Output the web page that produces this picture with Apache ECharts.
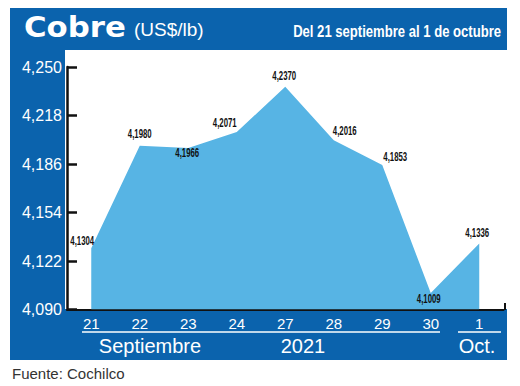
<!DOCTYPE html>
<html>
<head>
<meta charset="utf-8">
<script src="https://cdn.jsdelivr.net/npm/echarts@6/dist/echarts.min.js"></script>
<style>
html,body{margin:0;padding:0;background:#fff;}
#c{width:520px;height:386px;}
</style>
</head>
<body>
<div id="c"></div>
<script>
// ---- data ----
const categories = ['21', '22', '23', '24', '27', '28', '29', '30', '1'];
const prices = [4.1304, 4.1980, 4.1966, 4.2071, 4.2370, 4.2016, 4.1853, 4.1009, 4.1336];
const yTicks = { min: 4.090, max: 4.250, step: 0.032 };
const titleMain = 'Cobre';
const titleUnit = '(US$/lb)';
const titleRange = 'Del 21 septiembre al 1 de octubre';
const monthLabels = ['Septiembre', '2021', 'Oct.'];
const sourceText = 'Fuente: Cochilco';

// ---- styling ----
const BLUE = '#0b63ad';
const FILL = '#57b4e4';
const SANS = '"Liberation Sans", Arial, sans-serif';
const labelOffsets = [[-9, -8], [0, -13], [-1, 4], [-12, -10], [-1, -12], [11, -10], [13, -9], [-2, 5], [-2, -11]];

const fmtComma = (v, d) => v.toFixed(d).replace('.', ',');

const chart = echarts.init(document.getElementById('c'), null, { renderer: 'svg' });

chart.setOption({
  animation: false,
  backgroundColor: '#fff',
  grid: { left: 67, right: 16.5, top: 67, bottom: 76.5, containLabel: false },
  xAxis: {
    type: 'category',
    data: categories,
    boundaryGap: true,
    axisLine: { show: true, lineStyle: { color: '#111', width: 2 } },
    axisTick: { show: false },
    axisLabel: { color: '#fff', fontFamily: SANS, fontSize: 15, margin: 6, interval: 0 },
    splitLine: { show: false }
  },
  yAxis: {
    type: 'value',
    min: yTicks.min,
    max: yTicks.max,
    interval: yTicks.step,
    axisLine: { show: true, lineStyle: { color: '#111', width: 2.5 } },
    axisTick: { show: true, inside: true, length: 10, lineStyle: { color: '#111', width: 2.5 } },
    axisLabel: { color: '#fff', fontFamily: SANS, fontSize: 16, margin: 5, formatter: v => fmtComma(v, 3) },
    splitLine: { show: false }
  },
  series: [{
    type: 'line',
    data: prices,
    symbol: 'none',
    lineStyle: { width: 0, color: FILL },
    areaStyle: { color: FILL, opacity: 1, origin: 'start' },
    z: 3
  }, {
    type: 'custom',
    data: prices.map((v, i) => [i, v]),
    z: 5,
    renderItem: (params, api) => {
      const pt = api.coord([api.value(0), api.value(1)]);
      const off = labelOffsets[params.dataIndex];
      return {
        type: 'text',
        x: pt[0] + off[0],
        y: pt[1] + off[1],
        scaleX: 0.6,
        style: {
          text: fmtComma(api.value(1), 4),
          fill: '#111',
          font: 'bold 13px ' + SANS,
          align: 'center',
          verticalAlign: 'middle'
        }
      };
    }
  }],
  graphic: [
    { type: 'rect', z: -10, silent: true, shape: { x: 10, y: 8, width: 497, height: 352 }, style: { fill: BLUE } },
    { type: 'rect', z: -9, silent: true, shape: { x: 65, y: 50, width: 455, height: 259 }, style: { fill: '#fff' } },
    { type: 'text', z: 10, x: 24, y: 27, scaleX: 1.1, style: { text: titleMain, fill: '#fff', font: 'bold 28px "DejaVu Sans", sans-serif', verticalAlign: 'middle' } },
    { type: 'text', z: 10, x: 134, y: 29, style: { text: titleUnit, fill: '#fff', font: '19px ' + SANS, verticalAlign: 'middle' } },
    { type: 'text', z: 10, x: 501, y: 31, scaleX: 0.77, style: { text: titleRange, fill: '#fff', font: 'bold 17px ' + SANS, align: 'right', verticalAlign: 'middle' } },
    { type: 'line', z: 10, silent: true, shape: { x1: 505, y1: 303, x2: 505, y2: 310 }, style: { stroke: '#111', lineWidth: 2 } },
    { type: 'line', z: 10, silent: true, shape: { x1: 82, y1: 332, x2: 440, y2: 332 }, style: { stroke: '#fff', lineWidth: 1.5 } },
    { type: 'line', z: 10, silent: true, shape: { x1: 458, y1: 332, x2: 501, y2: 332 }, style: { stroke: '#fff', lineWidth: 1.5 } },
    { type: 'text', z: 10, x: 150, y: 346, style: { text: monthLabels[0], fill: '#fff', font: '20px ' + SANS, align: 'center', verticalAlign: 'middle' } },
    { type: 'text', z: 10, x: 303, y: 346, style: { text: monthLabels[1], fill: '#fff', font: '20px ' + SANS, align: 'center', verticalAlign: 'middle' } },
    { type: 'text', z: 10, x: 477, y: 346, style: { text: monthLabels[2], fill: '#fff', font: '20px ' + SANS, align: 'center', verticalAlign: 'middle' } },
    { type: 'text', z: 10, x: 12, y: 373, style: { text: sourceText, fill: '#333', font: '15px ' + SANS, verticalAlign: 'middle' } }
  ]
});
</script>
</body>
</html>
